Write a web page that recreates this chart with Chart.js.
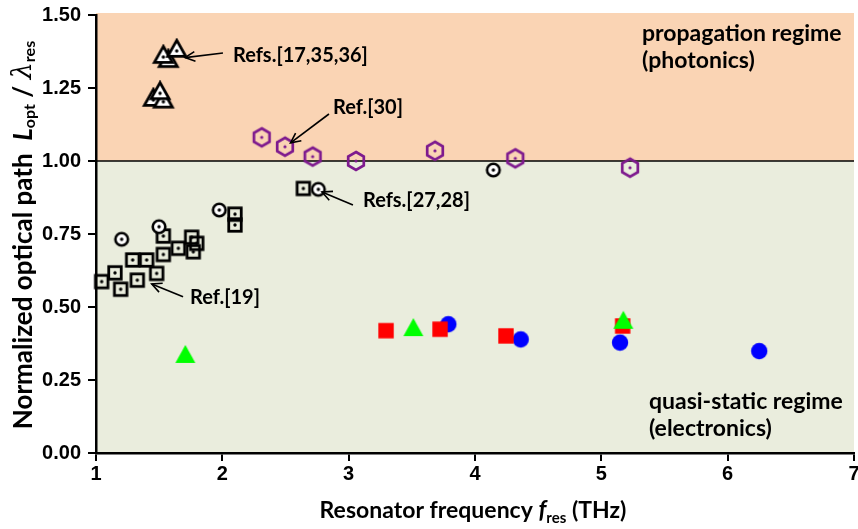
<!DOCTYPE html>
<html>
<head>
<meta charset="utf-8">
<script src="https://cdn.jsdelivr.net/npm/chart.js@4.4.0/dist/chart.umd.min.js"></script>
<style>
  html, body { margin: 0; padding: 0; background: #fff; }
  #wrap { width: 858px; height: 529px; }
</style>
</head>
<body>
<div id="wrap"><canvas id="chart" width="858" height="529"></canvas></div>
<script>
// x = resonator frequency (THz), y = L_opt / lambda_res
const x_range = [1, 7]
const y_range = [0, 1.5]

// open triangles, Refs.[17,35,36]
const tri_open = [
  {x: 1.454, y: 1.209}, {x: 1.533, y: 1.203}, {x: 1.507, y: 1.232},
  {x: 1.572, y: 1.342}, {x: 1.533, y: 1.356}, {x: 1.639, y: 1.377}
]
// purple hexagons, Ref.[30]
const hex_open = [
  {x: 2.312, y: 1.081}, {x: 2.496, y: 1.049}, {x: 2.715, y: 1.015},
  {x: 3.058, y: 1.000}, {x: 3.683, y: 1.035}, {x: 4.319, y: 1.009},
  {x: 5.227, y: 0.977}
]
// open circles
const circ_open = [
  {x: 1.203, y: 0.732}, {x: 1.499, y: 0.775}, {x: 1.976, y: 0.832},
  {x: 2.760, y: 0.903}, {x: 4.145, y: 0.969}
]
// open squares, Ref.[19] and Refs.[27,28]
const sq_open = [
  {x: 1.045, y: 0.587}, {x: 1.150, y: 0.617}, {x: 1.195, y: 0.561},
  {x: 1.290, y: 0.661}, {x: 1.401, y: 0.661}, {x: 1.327, y: 0.592},
  {x: 1.480, y: 0.615}, {x: 1.533, y: 0.680}, {x: 1.533, y: 0.743},
  {x: 1.652, y: 0.701}, {x: 1.770, y: 0.689}, {x: 1.757, y: 0.739},
  {x: 1.797, y: 0.718}, {x: 2.100, y: 0.818}, {x: 2.100, y: 0.781},
  {x: 2.641, y: 0.906}
]
// filled markers
const red_sq = [
  {x: 3.296, y: 0.419}, {x: 3.723, y: 0.424}, {x: 4.245, y: 0.401}, {x: 5.169, y: 0.435}
]
const blue_circ = [
  {x: 3.789, y: 0.441}, {x: 4.362, y: 0.389}, {x: 5.148, y: 0.378}, {x: 6.250, y: 0.349}
]
const green_tri = [
  {x: 1.707, y: 0.329}, {x: 3.512, y: 0.421}, {x: 5.174, y: 0.446}
]

// annotations (data coordinates)
const note_texts = ['Refs.[17,35,36]', 'Ref.[30]', 'Refs.[27,28]', 'Ref.[19]']
const note_at = [[2.084, 1.360], [2.876, 1.182], [3.113, 0.866], [1.744, 0.531]]
const arrow_from = [[2.005, 1.370], [2.844, 1.161], [3.034, 0.849], [1.689, 0.535]]
const arrow_to = [[1.705, 1.354], [2.540, 1.062], [2.789, 0.894], [1.441, 0.579]]
const regime_texts = [['propagation regime', '(photonics)'], ['quasi-static regime', '(electronics)']]
const regime_at = [[5.322, 1.438], [5.377, 0.175]]

const PEACH = '#FAD4B4'
const PALE = '#EAEDDD'
const PURPLE = '#7E1A8E'
const TXT_FONT = 'Lato'

// marker images
function makeMarker(size, draw) {
  const c = document.createElement('canvas')
  c.width = size; c.height = size
  draw(c.getContext('2d'), size / 2)
  return c
}
function dot(ctx, x, y, r, col) {
  ctx.beginPath(); ctx.arc(x, y, r, 0, Math.PI * 2); ctx.fillStyle = col; ctx.fill()
}
const m_tri_open = makeMarker(26, (ctx, c) => {
  const w = 18, h = 16
  ctx.beginPath()
  ctx.moveTo(c, c - 2 * h / 3); ctx.lineTo(c - w / 2, c + h / 3); ctx.lineTo(c + w / 2, c + h / 3); ctx.closePath()
  ctx.fillStyle = '#fff'; ctx.fill()
  ctx.lineWidth = 2.8; ctx.lineJoin = 'miter'; ctx.strokeStyle = '#000'; ctx.stroke()
  dot(ctx, c, c, 1.7, '#000')
})
const m_hex = makeMarker(26, (ctx, c) => {
  const r = 9
  ctx.beginPath()
  for (let i = 0; i < 6; i++) {
    const a = -Math.PI / 2 + i * Math.PI / 3
    ctx.lineTo(c + r * Math.cos(a), c + r * Math.sin(a))
  }
  ctx.closePath()
  ctx.lineWidth = 2.7; ctx.strokeStyle = PURPLE; ctx.stroke()
  dot(ctx, c, c, 1.6, PURPLE)
})
const m_circ_open = makeMarker(20, (ctx, c) => {
  ctx.beginPath(); ctx.arc(c, c, 6.3, 0, Math.PI * 2)
  ctx.fillStyle = '#fff'; ctx.fill()
  ctx.lineWidth = 2.6; ctx.strokeStyle = '#000'; ctx.stroke()
  dot(ctx, c, c, 1.7, '#000')
})
const m_sq_open = makeMarker(20, (ctx, c) => {
  const s = 12.5
  ctx.lineWidth = 2.8; ctx.strokeStyle = '#000'
  ctx.strokeRect(c - s / 2, c - s / 2, s, s)
  dot(ctx, c, c, 1.7, '#000')
})
const m_red_sq = makeMarker(18, (ctx, c) => {
  ctx.fillStyle = '#FF0000'; ctx.fillRect(c - 7.7, c - 7.7, 15.4, 15.4)
})
const m_blue_circ = makeMarker(20, (ctx, c) => {
  dot(ctx, c, c, 8.2, '#0000FF')
})
const m_green_tri = makeMarker(28, (ctx, c) => {
  const w = 20, h = 18
  ctx.beginPath()
  ctx.moveTo(c, c - 2 * h / 3); ctx.lineTo(c - w / 2, c + h / 3); ctx.lineTo(c + w / 2, c + h / 3); ctx.closePath()
  ctx.fillStyle = '#00FF00'; ctx.fill()
})

function ds(data, marker) {
  return { data: data, pointStyle: marker, pointRadius: 8, showLine: false, clip: false }
}

// draw text made of several runs (for italics and subscripts)
function richText(ctx, runs, x, y) {
  let total = 0
  runs.forEach(r => { ctx.font = r.font; r.w = ctx.measureText(r.t).width; total += r.w })
  let cx = x - total / 2
  runs.forEach(r => {
    ctx.font = r.font
    ctx.fillText(r.t, cx, y + (r.dy || 0))
    cx += r.w
  })
}

const bgPlugin = {
  id: 'regions',
  beforeDraw(chart) {
    const ctx = chart.ctx, a = chart.chartArea
    const ys = chart.scales.y
    const y1 = ys.getPixelForValue(1.0)
    ctx.save()
    ctx.fillStyle = '#fff'; ctx.fillRect(0, 0, chart.width, chart.height)
    ctx.fillStyle = PEACH; ctx.fillRect(a.left, a.top - 2, a.right - a.left, y1 - a.top + 2)
    ctx.fillStyle = PALE; ctx.fillRect(a.left, y1, a.right - a.left, a.bottom - y1)
    ctx.restore()
  },
  beforeDatasetsDraw(chart) {
    const ctx = chart.ctx, a = chart.chartArea
    const y1 = chart.scales.y.getPixelForValue(1.0)
    ctx.save()
    ctx.strokeStyle = '#000'; ctx.lineWidth = 1.6
    ctx.beginPath(); ctx.moveTo(a.left, y1); ctx.lineTo(a.right, y1); ctx.stroke()
    ctx.restore()
  },
  afterDraw(chart) {
    const ctx = chart.ctx, a = chart.chartArea
    const xs = chart.scales.x, ys = chart.scales.y
    const px = v => xs.getPixelForValue(v), py = v => ys.getPixelForValue(v)
    ctx.save()
    ctx.fillStyle = '#000'; ctx.strokeStyle = '#000'
    ctx.textBaseline = 'middle'; ctx.textAlign = 'left'
    // notes with arrows
    ctx.font = 'bold 20px ' + TXT_FONT
    note_texts.forEach((t, i) => {
      ctx.fillText(t, px(note_at[i][0]), py(note_at[i][1]))
      const x0 = px(arrow_from[i][0]), y0 = py(arrow_from[i][1])
      const x1 = px(arrow_to[i][0]), y1 = py(arrow_to[i][1])
      const ang = Math.atan2(y1 - y0, x1 - x0)
      ctx.lineWidth = 1.6
      ctx.beginPath(); ctx.moveTo(x0, y0); ctx.lineTo(x1, y1); ctx.stroke()
      ctx.beginPath()
      ctx.moveTo(x1 - 11 * Math.cos(ang - 0.45), y1 - 11 * Math.sin(ang - 0.45))
      ctx.lineTo(x1, y1)
      ctx.lineTo(x1 - 11 * Math.cos(ang + 0.45), y1 - 11 * Math.sin(ang + 0.45))
      ctx.stroke()
    })
    // regime labels
    ctx.font = 'bold 23px ' + TXT_FONT
    regime_texts.forEach((lines, i) => {
      lines.forEach((t, j) => ctx.fillText(t, px(regime_at[i][0]), py(regime_at[i][1]) + j * 27))
    })
    // x axis title
    ctx.textAlign = 'left'; ctx.textBaseline = 'alphabetic'
    richText(ctx, [
      {t: 'Resonator frequency ', font: 'bold 23px ' + TXT_FONT},
      {t: 'f', font: 'italic bold 24px ' + TXT_FONT},
      {t: 'res', font: 'bold 15px ' + TXT_FONT, dy: 5},
      {t: ' (THz)', font: 'bold 23px ' + TXT_FONT}
    ], (a.left + a.right) / 2 - 2, 518)
    // y axis title
    ctx.translate(24, 235)
    ctx.rotate(-Math.PI / 2)
    ctx.textBaseline = 'middle'
    richText(ctx, [
      {t: 'Normalized optical path  ', font: 'bold 26px ' + TXT_FONT},
      {t: 'L', font: 'italic bold 26px ' + TXT_FONT},
      {t: 'opt', font: 'bold 16px ' + TXT_FONT, dy: 6},
      {t: ' / ', font: 'bold 26px ' + TXT_FONT},
      {t: '\u03BB', font: 'italic 27px "DejaVu Serif"'},
      {t: 'res', font: 'bold 16px ' + TXT_FONT, dy: 6}
    ], 0, 0)
    ctx.restore()
  }
}

const tickFont = {family: 'Liberation Sans', weight: 'bold', size: 20}

new Chart(document.getElementById('chart'), {
  type: 'scatter',
  data: {
    datasets: [
      ds(green_tri, m_green_tri),
      ds(red_sq, m_red_sq),
      ds(blue_circ, m_blue_circ),
      ds(tri_open, m_tri_open),
      ds(circ_open, m_circ_open),
      ds(sq_open, m_sq_open),
      ds(hex_open, m_hex)
    ]
  },
  options: {
    responsive: false,
    animation: false,
    events: [],
    layout: {autoPadding: false, padding: {left: 0, right: 4, top: 15, bottom: 0}},
    plugins: {legend: {display: false}, tooltip: {enabled: false}},
    scales: {
      x: {
        type: 'linear', min: x_range[0], max: x_range[1],
        afterFit: s => { s.height = 76; s.paddingRight = 0; s.paddingLeft = 0 },
        ticks: {stepSize: 1, color: '#000', font: tickFont, padding: 1, maxRotation: 0},
        grid: {drawOnChartArea: false, color: '#000', lineWidth: 2, tickLength: 8},
        border: {color: '#000', width: 2.5}
      },
      y: {
        min: y_range[0], max: y_range[1],
        afterFit: s => { s.width = 96; s.paddingTop = 0; s.paddingBottom = 0 },
        ticks: {stepSize: 0.25, color: '#000', font: tickFont, padding: 7, callback: v => v.toFixed(2)},
        grid: {drawOnChartArea: false, color: '#000', lineWidth: 2, tickLength: 8},
        border: {color: '#000', width: 2.5}
      }
    }
  },
  plugins: [bgPlugin]
})
</script>
</body>
</html>
